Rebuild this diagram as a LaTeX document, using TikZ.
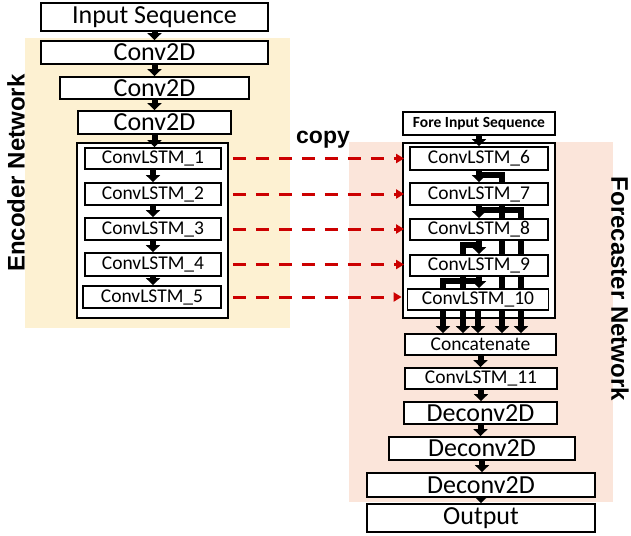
\documentclass[tikz,border=0pt]{standalone}
\usepackage{fontspec}
\setmainfont{Carlito}
\newfontfamily\labfont{Liberation Sans}
\usetikzlibrary{arrows.meta,calc}
\definecolor{encbg}{RGB}{253,241,210}
\definecolor{forbg}{RGB}{251,229,218}
\definecolor{copyred}{RGB}{204,0,0}
\pgfdeclarelayer{back}
\pgfdeclarelayer{mid}
\pgfsetlayers{back,mid,main}
\begin{document}
\begin{tikzpicture}[x=1pt,y=-1pt,
  box/.style={draw=black,line width=1.8pt,fill=white,inner sep=0pt,anchor=center},
  big/.style={box,font=\fontsize{26}{26}\selectfont},
  lstm/.style={box,font=\fontsize{19.5}{19.5}\selectfont},
  outerbox/.style={draw=black,line width=1.8pt,fill=white,inner sep=0pt},
  blk/.style={line width=6pt,line join=miter,-{Triangle[width=14pt,length=7pt]}},
  copyarr/.style={draw=copyred,line width=3pt,dash pattern=on 13pt off 10pt,-{Triangle[width=9pt,length=8pt]}},
  lab/.style={font=\labfont\bfseries\fontsize{24}{24}\selectfont}]
\useasboundingbox (0,0) rectangle (631,535);
\begin{pgfonlayer}{back}
  \fill[white] (0,0) rectangle (631,535);
  \fill[encbg] (25,38) rectangle (290,328);
  \fill[forbg] (349,142) rectangle (613,502);
\end{pgfonlayer}

% encoder
\node[big,minimum width=227pt,minimum height=28pt] (in) at (154.5,17) {Input Sequence};
\node[big,minimum width=227pt,minimum height=23pt] (c1) at (154.5,52.5) {Conv2D};
\node[big,minimum width=189pt,minimum height=22pt] (c2) at (154.5,88) {Conv2D};
\node[big,minimum width=153pt,minimum height=23pt] (c3) at (154.5,122.5) {Conv2D};
\node[lstm,minimum width=136pt,minimum height=21pt] (e1) at (153,158.5) {ConvLSTM\_1};
\node[lstm,minimum width=136pt,minimum height=22pt] (e2) at (153,194) {ConvLSTM\_2};
\node[lstm,minimum width=136pt,minimum height=22pt] (e3) at (153,229) {ConvLSTM\_3};
\node[lstm,minimum width=136pt,minimum height=23pt] (e4) at (153,264.5) {ConvLSTM\_4};
\node[lstm,minimum width=138pt,minimum height=22pt] (e5) at (152,297) {ConvLSTM\_5};

% forecaster
\node[box,font=\bfseries\fontsize{15.5}{15.5}\selectfont,minimum width=152pt,minimum height=23pt] (fin) at (479,123.5) {Fore Input Sequence};
\node[lstm,minimum width=138pt,minimum height=23pt] (f6) at (479,158.5) {ConvLSTM\_6};
\node[lstm,minimum width=138pt,minimum height=22pt] (f7) at (479,194) {ConvLSTM\_7};
\node[lstm,minimum width=138pt,minimum height=21pt] (f8) at (479,229.5) {ConvLSTM\_8};
\node[lstm,minimum width=138pt,minimum height=21pt] (f9) at (479,265.5) {ConvLSTM\_9};
\node[lstm,minimum width=141pt,minimum height=21pt] (f10) at (478,299.5) {ConvLSTM\_10};
\node[lstm,minimum width=151pt,minimum height=21pt] (cat) at (480.5,344.5) {Concatenate};
\node[lstm,minimum width=152pt,minimum height=21pt] (f11) at (481,378.5) {ConvLSTM\_11};
\node[big,minimum width=153pt,minimum height=22pt] (d1) at (480.5,413) {Deconv2D};
\node[big,minimum width=186pt,minimum height=23pt] (d2) at (482,448.5) {Deconv2D};
\node[big,minimum width=228pt,minimum height=24pt] (d3) at (481,485) {Deconv2D};
\node[big,minimum width=228pt,minimum height=28pt] (out) at (481,518) {Output};

% labels
\node[lab,rotate=90] (enc) at (16,173) {Encoder Network};
\node[lab,rotate=-90] (fore) at (620,289) {Forecaster Network};
\node[lab,font=\labfont\bfseries\fontsize{23}{23}\selectfont] (copy) at (323,140) {copy};

\begin{pgfonlayer}{mid}
  \node[outerbox,minimum width=151pt,minimum height=175pt] (eo) at (152.5,230.5) {};
  \node[outerbox,minimum width=152pt,minimum height=175pt] (fo) at (479,230.5) {};
  % dense skip lanes
  \draw[blk] ($(f6.south)+(0,4)$) -| ($(cat.north)+(21.5,0)$);
  \draw[blk] ($(f7.south)+(0,4)$) -| ($(cat.north)+(40.5,0)$);
  \draw[blk] ($(f8.south)+(0,4)$) -| ($(cat.north)+(-17.5,0)$);
  \draw[blk] ($(f9.south)+(0,4)$) -| ($(cat.north)+(-37.5,0)$);
\end{pgfonlayer}

% encoder arrows
\draw[blk] (in.south) -- (c1.north);
\draw[blk] (c1.south) -- (c2.north);
\draw[blk] (c2.south) -- (c3.north);
\draw[blk] (c3.south) -- (c3.south |- e1.north);
\draw[blk] (e1.south) -- (e2.north);
\draw[blk] (e2.south) -- (e3.north);
\draw[blk] (e3.south) -- (e4.north);
\draw[blk] (e4.south) -- (e4.south |- e5.north);

% forecaster arrows
\draw[blk] (fin.south) -- (f6.north);
\draw[blk] (f6.south) -- (f7.north);
\draw[blk] (f7.south) -- (f8.north);
\draw[blk] (f8.south) -- (f9.north);
\draw[blk] (f9.south) -- (f9.south |- f10.north);
\draw[blk] (f10.south) -- (f10.south |- cat.north);
\draw[blk] (cat.south) -- (cat.south |- f11.north);
\draw[blk] (f11.south) -- (f11.south |- d1.north);
\draw[blk] (d1.south) -- (d1.south |- d2.north);
\draw[blk] (d2.south) -- (d2.south |- d3.north);
\draw[blk] (d3.south) -- (out.north);

% copy arrows
\draw[copyarr,shorten <=11pt,shorten >=5pt] (e1.east) -- (e1.east -| f6.west);
\draw[copyarr,shorten <=11pt,shorten >=5pt] (e2.east) -- (e2.east -| f7.west);
\draw[copyarr,shorten <=11pt,shorten >=5pt] (e3.east) -- (e3.east -| f8.west);
\draw[copyarr,shorten <=11pt,shorten >=5pt] (e4.east) -- (e4.east -| f9.west);
\draw[copyarr,shorten <=11pt,shorten >=5pt] (e5.east) -- (e5.east -| f10.west);
\end{tikzpicture}
\end{document}
